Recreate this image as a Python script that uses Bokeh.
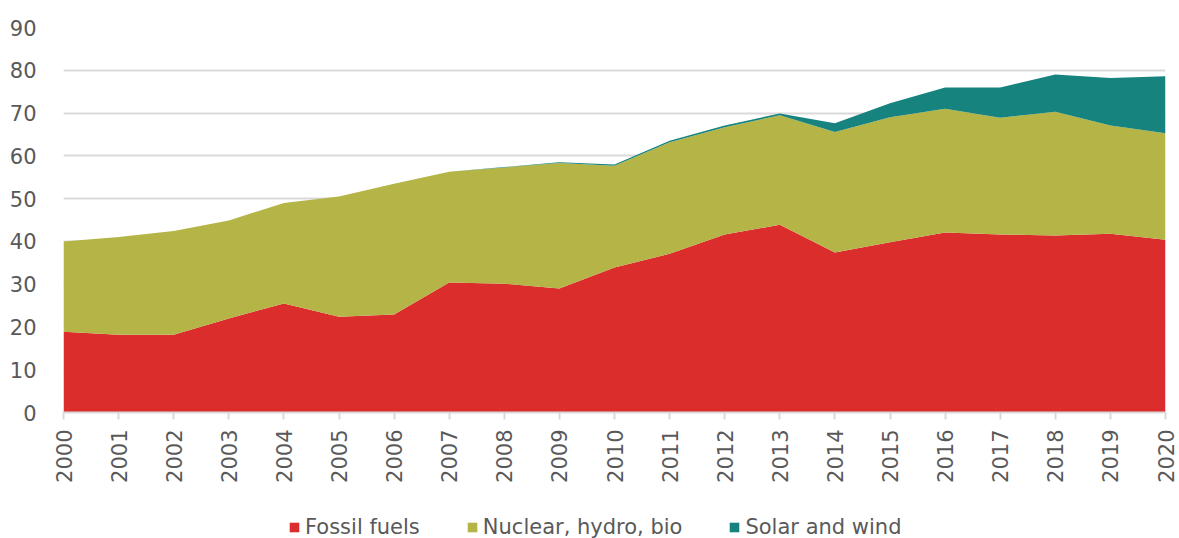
import math
from bokeh.plotting import figure
from bokeh.layouts import column
from bokeh.models import ColumnDataSource, FixedTicker, Legend, LegendItem, Range1d
from bokeh.embed import file_html
from bokeh.resources import INLINE

years = list(range(2000, 2021))
fossil = [18.9, 18.2, 18.2, 22.0, 25.5, 22.4, 22.9, 30.4, 30.1, 29.0, 33.9,
          37.1, 41.6, 43.9, 37.4, 39.8, 42.1, 41.6, 41.4, 41.8, 40.4]
nuclear_top = [40.0, 41.0, 42.4, 44.9, 49.0, 50.5, 53.5, 56.3, 57.3, 58.3, 57.7,
               63.2, 66.7, 69.5, 65.6, 69.0, 71.0, 68.9, 70.3, 67.1, 65.3]
nuclear = [round(t - f, 2) for t, f in zip(nuclear_top, fossil)]
solar_wind = [0.0, 0.0, 0.0, 0.0, 0.0, 0.0, 0.0, 0.0, 0.1, 0.2, 0.3,
              0.3, 0.4, 0.4, 2.0, 3.3, 5.0, 7.1, 8.7, 11.1, 13.3]
series_names = ["Fossil fuels", "Nuclear, hydro, bio", "Solar and wind"]
colors = ["#dc2d2d", "#b4b447", "#16837f"]
y_ticks = list(range(0, 91, 10))

source = ColumnDataSource(dict(year=years, fossil=fossil, nuclear=nuclear, solar=solar_wind))
stackers = ["fossil", "nuclear", "solar"]

FONT = "DejaVu Sans"
GRAY = "#595959"
FS = "21px"

p = figure(width=1179, height=486, output_backend="svg", toolbar_location=None,
           x_range=Range1d(2000, 2020), y_range=Range1d(0, 90),
           min_border_left=63, min_border_right=14, min_border_top=27, min_border_bottom=74)
p.outline_line_color = None

p.varea_stack(stackers=stackers, x="year", color=colors, source=source)

p.xgrid.grid_line_color = None
p.ygrid.grid_line_color = "#d9d9d9"
p.ygrid.grid_line_width = 2
p.ygrid.ticker = FixedTicker(ticks=y_ticks)

p.yaxis.ticker = FixedTicker(ticks=y_ticks)
p.yaxis.axis_line_color = None
p.yaxis.major_tick_line_color = None
p.yaxis.minor_tick_line_color = None
p.yaxis.major_label_text_font = FONT
p.yaxis.major_label_text_font_size = FS
p.yaxis.major_label_text_color = GRAY
p.yaxis.major_label_standoff = 21

p.xaxis.ticker = FixedTicker(ticks=years)
p.xaxis.axis_line_color = "#d9d9d9"
p.xaxis.axis_line_width = 2
p.xaxis.major_tick_line_color = "#d9d9d9"
p.xaxis.major_tick_line_width = 2
p.xaxis.major_tick_out = 7
p.xaxis.major_tick_in = 0
p.xaxis.minor_tick_line_color = None
p.xaxis.major_label_orientation = math.pi / 2
p.xaxis.major_label_text_font = FONT
p.xaxis.major_label_text_font_size = FS
p.xaxis.major_label_text_color = GRAY
p.xaxis.major_label_standoff = 10

# legend strip: a second figure whose frame fills it, holding the legend
q = figure(width=1179, height=52, output_backend="svg", toolbar_location=None,
           x_range=Range1d(0, 1), y_range=Range1d(1000, 1001),
           x_axis_location=None, y_axis_location=None,
           min_border_left=0, min_border_right=0, min_border_top=0, min_border_bottom=0)
q.outline_line_color = None
q.xgrid.visible = False
q.ygrid.visible = False
rs = q.varea_stack(stackers=stackers, x="year", color=colors, source=source)

legend = Legend(items=[LegendItem(label=n, renderers=[r]) for n, r in zip(series_names, rs)],
                orientation="horizontal", location=(225, -1),
                label_text_font=FONT, label_text_font_size=FS, label_text_color=GRAY,
                glyph_width=12, glyph_height=12, label_standoff=5, spacing=46,
                border_line_color=None, background_fill_alpha=0, margin=0, padding=0)
q.add_layout(legend, "center")

open("out.html", "w").write(file_html(column(p, q, spacing=0), INLINE))
